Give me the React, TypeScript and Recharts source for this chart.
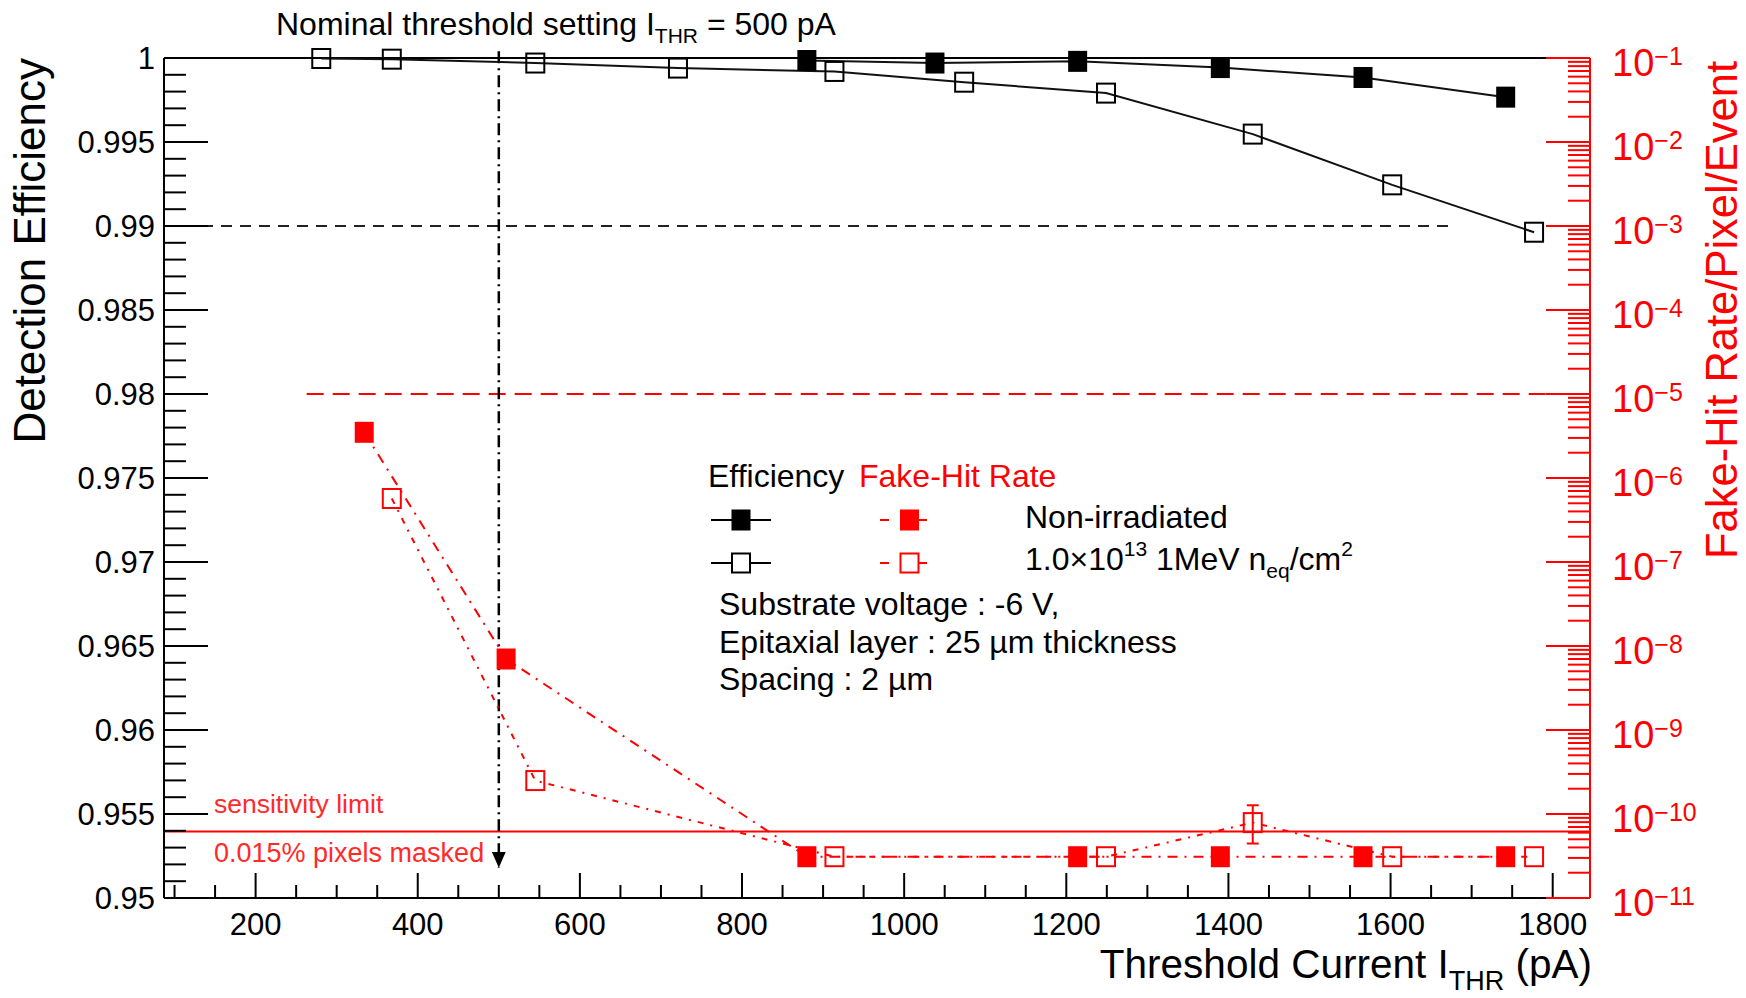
import React from "react";
import { ComposedChart, Line, XAxis, YAxis, ReferenceLine, ErrorBar } from "recharts";

const FONT = "'Liberation Sans', Arial, Helvetica, sans-serif";
const RED = "#ff0000";

// detection efficiency vs threshold current (pA)
const effNonIrrX = [880, 1038, 1214, 1390, 1566, 1742];
const effNonIrrY = [0.99985, 0.9997, 0.9998, 0.99943, 0.99884, 0.99767];
const effIrrX = [281, 368, 545, 721, 914, 1074, 1249, 1430, 1602, 1777];
const effIrrY = [0.99997, 0.99993, 0.9997, 0.9994, 0.9992, 0.99856, 0.99791, 0.99547, 0.99245, 0.98963];

// fake-hit rate / pixel / event
const fhrNonIrrX = [334, 509, 880, 1214, 1390, 1566, 1742];
const fhrNonIrrY = [3.5e-6, 7.0e-9, 3.1e-11, 3.1e-11, 3.1e-11, 3.1e-11, 3.1e-11];
const fhrIrrX = [368, 545, 914, 1249, 1430, 1602, 1777];
const fhrIrrY = [5.7e-7, 2.5e-10, 3.1e-11, 3.1e-11, 7.9e-11, 3.1e-11, 3.1e-11];
const fhrIrrErr: (number[] | null)[] = [null, null, null, null, [3.45e-11, 4.8e-11], null, null];

// reference levels
const NOMINAL_THR = 500;
const EFF_LIMIT = 0.99;
const FHR_LIMIT = 1e-5;
const SENS_LIMIT = 6.2e-11;

// axes
const xDomain = [87, 1846];
const xMajorTicks = [200, 400, 600, 800, 1000, 1200, 1400, 1600, 1800];
const effDomain = [0.95, 1];
const effMajorTicks = [0.95, 0.955, 0.96, 0.965, 0.97, 0.975, 0.98, 0.985, 0.99, 0.995, 1];
const fhrDomain = [1e-11, 1e-1];
const fhrDecades = [-11, -10, -9, -8, -7, -6, -5, -4, -3, -2, -1];
const logMinor = [2, 3, 4, 5, 6, 7, 8, 9];

const xTicks: number[] = [];
for (let v = 100; v <= 1800; v += 50) xTicks.push(v);
const effTicks: number[] = [];
for (let k = 950; k <= 1000; k++) effTicks.push(k / 1000);
const fhrTicks: number[] = [];
fhrDecades.forEach((e) => {
  fhrTicks.push(Math.pow(10, e));
  if (e < -1) logMinor.forEach((m) => fhrTicks.push(m * Math.pow(10, e)));
});

const toPts = (xs: number[], ys: number[]) => xs.map((x, i) => ({ x, y: ys[i] }));
const effNonIrr = toPts(effNonIrrX, effNonIrrY);
const effIrr = toPts(effIrrX, effIrrY);
const fhrNonIrr = toPts(fhrNonIrrX, fhrNonIrrY);
const fhrIrr = fhrIrrX.map((x, i) => ({ x, y: fhrIrrY[i], err: fhrIrrErr[i] }));

const squareDot = (color: string, filled: boolean) => (props: any) => {
  const { cx, cy, index } = props;
  if (cx == null || cy == null) return <g key={index} />;
  return filled ? (
    <rect key={index} x={cx - 9.5} y={cy - 10.5} width={19} height={21} fill={color} />
  ) : (
    <rect key={index} x={cx - 9} y={cy - 9.5} width={18} height={19} fill="none" stroke={color} strokeWidth={2} />
  );
};

function XTick({ x, y, payload }: any) {
  const v = payload.value;
  const major = xMajorTicks.includes(v);
  return (
    <g>
      <line x1={x} y1={y} x2={x} y2={y - (major ? 25 : 13)} stroke="#000" strokeWidth={2} />
      {major && (
        <text x={x} y={y + 37} textAnchor="middle" fontSize={31} fontFamily={FONT} fill="#000">
          {v}
        </text>
      )}
    </g>
  );
}

function EffTick({ x, y, payload }: any) {
  const v = payload.value;
  const major = effMajorTicks.some((m) => Math.abs(m - v) < 1e-9);
  return (
    <g>
      <line x1={x} y1={y} x2={x + (major ? 44 : 22)} y2={y} stroke="#000" strokeWidth={2} />
      {major && (
        <text x={x - 9} y={y + 11} textAnchor="end" fontSize={31} fontFamily={FONT} fill="#000">
          {String(+v.toFixed(3))}
        </text>
      )}
    </g>
  );
}

function FhrTick({ x, y, payload }: any) {
  const v = payload.value;
  const e = Math.log10(v);
  const major = Math.abs(e - Math.round(e)) < 1e-6;
  return (
    <g>
      <line x1={x} y1={y} x2={x - (major ? 44 : 22)} y2={y} stroke={RED} strokeWidth={2} />
      {major && (
        <text x={x + 22} y={y + 18} fontSize={38} fontFamily={FONT} fill={RED}>
          10
          <tspan fontSize={25} dy={-11}>
            {"\u2212" + String(-Math.round(e))}
          </tspan>
        </text>
      )}
    </g>
  );
}

export default function App() {
  return (
    <div style={{ position: "relative", width: 1746, height: 998, background: "#fff" }}>
      <style>{`body{margin:0}`}</style>
      <ComposedChart width={1746} height={998} margin={{ top: 58, right: 0, bottom: 0, left: 0 }}>
        <defs>
          <marker id="arrowDown" markerUnits="userSpaceOnUse" markerWidth={16} markerHeight={14} refX={16} refY={7} orient="auto">
            <path d="M0,0 L16,7 L0,14 z" fill="#000" />
          </marker>
        </defs>
        <XAxis
          dataKey="x"
          type="number"
          domain={xDomain}
          ticks={xTicks}
          interval={0}
          height={100}
          tickSize={0}
          tickMargin={0}
          tickLine={false}
          tick={<XTick />}
          axisLine={{ stroke: "#000", strokeWidth: 2 }}
          allowDataOverflow
        />
        <YAxis
          yAxisId="eff"
          type="number"
          domain={effDomain}
          ticks={effTicks}
          interval={0}
          width={164}
          tickSize={0}
          tickMargin={0}
          tickLine={false}
          tick={<EffTick />}
          axisLine={{ stroke: "#000", strokeWidth: 2 }}
        />
        <YAxis
          yAxisId="fhr"
          orientation="right"
          type="number"
          scale="log"
          domain={fhrDomain}
          ticks={fhrTicks}
          interval={0}
          width={156}
          tickSize={0}
          tickMargin={0}
          tickLine={false}
          tick={<FhrTick />}
          axisLine={{ stroke: RED, strokeWidth: 2 }}
        />

        <ReferenceLine yAxisId="eff" y={1} stroke="#000" strokeWidth={2} />
        <ReferenceLine
          yAxisId="eff"
          segment={[{ x: xDomain[0], y: EFF_LIMIT }, { x: 1672, y: EFF_LIMIT }]}
          stroke="#222"
          strokeWidth={2}
          strokeDasharray="11 8"
        />
        <ReferenceLine
          yAxisId="fhr"
          segment={[{ x: 263, y: FHR_LIMIT }, { x: xDomain[1], y: FHR_LIMIT }]}
          stroke={RED}
          strokeWidth={2}
          strokeDasharray="17 9"
        />
        <ReferenceLine yAxisId="fhr" y={SENS_LIMIT} stroke={RED} strokeWidth={2} />
        <ReferenceLine
          yAxisId="eff"
          ifOverflow="visible"
          segment={[{ x: NOMINAL_THR, y: 1.0004 }, { x: NOMINAL_THR, y: 0.9518 }]}
          stroke="#000"
          strokeWidth={2.5}
          strokeDasharray="12 5 2 5"
          markerEnd="url(#arrowDown)"
        />

        <Line
          yAxisId="fhr"
          data={fhrIrr}
          dataKey="y"
          stroke={RED}
          strokeWidth={2}
          strokeDasharray="6 7 2 7"
          dot={squareDot(RED, false)}
          activeDot={false}
          isAnimationActive={false}
        >
          <ErrorBar dataKey="err" direction="y" width={6} stroke={RED} strokeWidth={2} isAnimationActive={false} />
        </Line>
        <Line
          yAxisId="fhr"
          data={fhrNonIrr}
          dataKey="y"
          stroke={RED}
          strokeWidth={2}
          strokeDasharray="10 7 2 7"
          dot={squareDot(RED, true)}
          activeDot={false}
          isAnimationActive={false}
        />
        <Line
          yAxisId="eff"
          data={effIrr}
          dataKey="y"
          stroke="#111"
          strokeWidth={2}
          dot={squareDot("#000", false)}
          activeDot={false}
          isAnimationActive={false}
        />
        <Line
          yAxisId="eff"
          data={effNonIrr}
          dataKey="y"
          stroke="#111"
          strokeWidth={2}
          dot={squareDot("#000", true)}
          activeDot={false}
          isAnimationActive={false}
        />
      </ComposedChart>

      <svg
        width={1746}
        height={998}
        style={{ position: "absolute", left: 0, top: 0, pointerEvents: "none" }}
        fontFamily={FONT}
      >
        <text x={276} y={35} fontSize={32} fill="#000">
          Nominal threshold setting I
          <tspan fontSize={21} dy={8}>THR</tspan>
          <tspan dy={-8}> = 500 pA</tspan>
        </text>

        <text transform="translate(45,58) rotate(-90)" textAnchor="end" fontSize={44} fill="#000">
          Detection Efficiency
        </text>
        <text transform="translate(1737,61) rotate(-90)" textAnchor="end" fontSize={43.5} fill={RED}>
          Fake-Hit Rate/Pixel/Event
        </text>
        <text x={1592} y={978} textAnchor="end" fontSize={40.5} fill="#000">
          Threshold Current I
          <tspan fontSize={27} dy={12}>THR</tspan>
          <tspan dy={-12}> (pA)</tspan>
        </text>

        <text x={214} y={813} fontSize={26.5} fill="#ff2a2a">sensitivity limit</text>
        <text x={214} y={862} fontSize={27} fill="#ff2a2a">0.015% pixels masked</text>

        {/* legend */}
        <text x={708} y={487} fontSize={32} fill="#000">Efficiency</text>
        <text x={859} y={487} fontSize={32} fill={RED}>Fake-Hit Rate</text>

        <line x1={711} y1={520} x2={771} y2={520} stroke="#000" strokeWidth={2} />
        <rect x={731.5} y={509.5} width={19} height={21} fill="#000" />
        <line x1={880} y1={520} x2={889} y2={520} stroke={RED} strokeWidth={2} />
        <line x1={919} y1={520} x2={927} y2={520} stroke={RED} strokeWidth={2} />
        <rect x={900} y={509.5} width={19} height={21} fill={RED} />

        <line x1={711} y1={563} x2={771} y2={563} stroke="#000" strokeWidth={2} />
        <rect x={732} y={553.5} width={18} height={19} fill="#fff" stroke="#000" strokeWidth={2} />
        <line x1={880} y1={563} x2={889} y2={563} stroke={RED} strokeWidth={2} />
        <line x1={919} y1={563} x2={927} y2={563} stroke={RED} strokeWidth={2} />
        <rect x={900.5} y={553.5} width={18} height={19} fill="none" stroke={RED} strokeWidth={2} />

        <text x={1025} y={528} fontSize={32} fill="#000">Non-irradiated</text>
        <text x={1025} y={570} fontSize={32} fill="#000">
          1.0×10
          <tspan fontSize={21} dy={-14}>13</tspan>
          <tspan dy={14}> 1MeV n</tspan>
          <tspan fontSize={21} dy={8}>eq</tspan>
          <tspan dy={-8}>/cm</tspan>
          <tspan fontSize={21} dy={-14}>2</tspan>
        </text>

        <text x={719} y={615} fontSize={32} fill="#000">Substrate voltage : -6 V,</text>
        <text x={719} y={653} fontSize={32} fill="#000">Epitaxial layer : 25 µm thickness</text>
        <text x={719} y={690} fontSize={32} fill="#000">Spacing : 2 µm</text>
      </svg>
    </div>
  );
}
